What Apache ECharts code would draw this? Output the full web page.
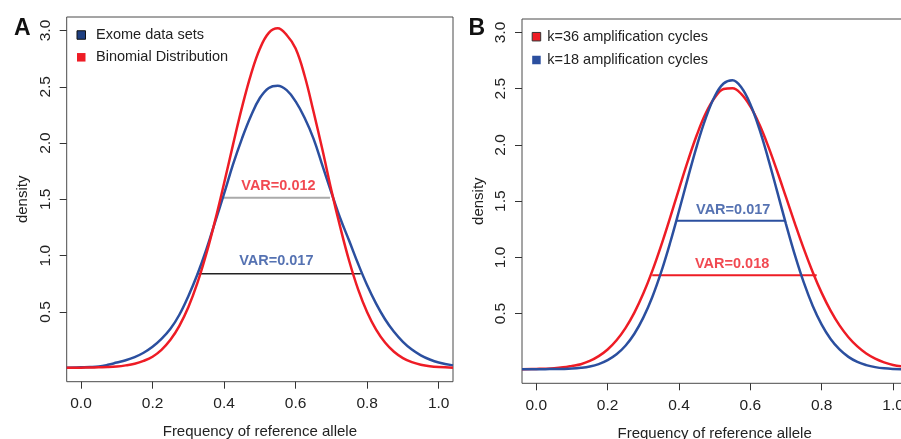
<!DOCTYPE html>
<html><head><meta charset="utf-8">
<script src="https://cdn.jsdelivr.net/npm/echarts@6/dist/echarts.min.js"></script>
<style>html,body{margin:0;padding:0;background:#fff}#c{width:901px;height:439px}</style>
</head><body><div id="c"></div>
<script>
// ---- data ----
const xSamples = [-0.04, 0.000, 0.025, 0.050, 0.075, 0.100, 0.125, 0.150, 0.175, 0.200, 0.225, 0.250, 0.275, 0.300, 0.325, 0.350, 0.375, 0.400, 0.425, 0.450, 0.475, 0.500, 0.525, 0.550, 0.575, 0.600, 0.625, 0.650, 0.675, 0.700, 0.725, 0.750, 0.775, 0.800, 0.825, 0.850, 0.875, 0.900, 0.925, 0.950, 0.975, 1.000, 1.04];
// Panel A
const exomeA    = [0.005, 0.008, 0.010, 0.015, 0.030, 0.050, 0.070, 0.098, 0.137, 0.190, 0.260, 0.350, 0.475, 0.640, 0.830, 1.050, 1.300, 1.550, 1.810, 2.040, 2.240, 2.400, 2.490, 2.510, 2.470, 2.370, 2.225, 2.040, 1.800, 1.560, 1.330, 1.130, 0.925, 0.737, 0.574, 0.435, 0.323, 0.234, 0.165, 0.114, 0.077, 0.051, 0.025];
const binomialA = [0.003, 0.005, 0.006, 0.008, 0.010, 0.015, 0.025, 0.040, 0.065, 0.102, 0.163, 0.252, 0.376, 0.541, 0.753, 1.012, 1.313, 1.643, 1.986, 2.317, 2.609, 2.838, 2.979, 3.020, 2.960, 2.840, 2.600, 2.280, 1.940, 1.580, 1.250, 0.950, 0.698, 0.497, 0.343, 0.228, 0.146, 0.090, 0.054, 0.031, 0.017, 0.010, 0.005];
// Panel B
const k36B      = [0.005, 0.008, 0.010, 0.014, 0.022, 0.035, 0.050, 0.079, 0.122, 0.181, 0.263, 0.371, 0.509, 0.678, 0.878, 1.105, 1.352, 1.608, 1.858, 2.088, 2.281, 2.420, 2.497, 2.505, 2.451, 2.342, 2.185, 1.989, 1.768, 1.535, 1.300, 1.075, 0.868, 0.684, 0.526, 0.395, 0.290, 0.208, 0.145, 0.099, 0.066, 0.043, 0.025];
const k18B      = [0.004, 0.005, 0.006, 0.007, 0.008, 0.011, 0.018, 0.030, 0.051, 0.086, 0.138, 0.214, 0.321, 0.464, 0.646, 0.869, 1.128, 1.412, 1.707, 1.990, 2.238, 2.431, 2.546, 2.575, 2.510, 2.362, 2.145, 1.879, 1.589, 1.296, 1.020, 0.775, 0.568, 0.402, 0.274, 0.181, 0.115, 0.070, 0.042, 0.024, 0.013, 0.008, 0.005];

const seriesNamesA = ['Exome data sets', 'Binomial Distribution'];
const seriesNamesB = ['k=36 amplification cycles', 'k=18 amplification cycles'];

// VAR segments: level (density), start x, end x; label anchors in data units
const varLevelsA = [1.514, 0.84];
const varStartsA = [0.394, 0.324];
const varEndsA   = [0.696, 0.782];
const varLabelsA = ['VAR=0.012', 'VAR=0.017'];
const varLabelXA = [0.552, 0.546];
const varLabelYA = [1.617, 0.952];

const varLevelsB = [1.325, 0.84];
const varStartsB = [0.392, 0.325];
const varEndsB   = [0.697, 0.786];
const varLabelsB = ['VAR=0.017', 'VAR=0.018'];
const varLabelXB = [0.552, 0.549];
const varLabelYB = [1.423, 0.944];

const xTicks = [0.0, 0.2, 0.4, 0.6, 0.8, 1.0];
const yTicks = [0.5, 1.0, 1.5, 2.0, 2.5, 3.0];
const panelLetters = ['A', 'B'];
const xTitle = 'Frequency of reference allele';
const yTitle = 'density';

// ---- styles ----
const RED = '#ee1c25';
const BLUE = '#2b4f9f';
const FONT = '"Liberation Sans", Arial, Helvetica, sans-serif';
const TXT = '#222';

function pairs(xs, ys) { return xs.map((x, i) => [x, ys[i]]); }

function xAxisFor(g) {
  return {
    type: 'value', gridIndex: g, min: -0.04, max: 1.04,
    axisLine: { show: false, onZero: false }, splitLine: { show: false },
    axisTick: { show: true, inside: false, customValues: xTicks, length: 7, lineStyle: { color: '#333', width: 1 } },
    axisLabel: { show: true, customValues: xTicks, formatter: v => v.toFixed(1), margin: 14,
      fontSize: 15.5, lineHeight: 16, color: TXT, fontFamily: FONT },
    name: xTitle, nameLocation: 'middle', nameGap: 43,
    nameTextStyle: { fontSize: 15, color: TXT, fontFamily: FONT }
  };
}
function yAxisFor(g) {
  return {
    type: 'value', gridIndex: g, min: -0.12, max: 3.12,
    axisLine: { show: false, onZero: false }, splitLine: { show: false },
    axisTick: { show: true, inside: false, customValues: yTicks, length: 7, lineStyle: { color: '#333', width: 1 } },
    axisLabel: { show: true, customValues: yTicks, formatter: v => v.toFixed(1), rotate: 90, margin: 13,
      fontSize: 15.5, lineHeight: 16, color: TXT, fontFamily: FONT },
    name: yTitle, nameLocation: 'middle', nameGap: 36,
    nameTextStyle: { fontSize: 15, color: TXT, fontFamily: FONT }
  };
}
function curve(name, g, ys, color) {
  return { name, type: 'line', xAxisIndex: g, yAxisIndex: g, data: pairs(xSamples, ys),
    smooth: 0.4, showSymbol: false, symbol: 'none', lineStyle: { color, width: 2.5 }, itemStyle: { color },
    z: 3, silent: true };
}
function segment(g, x0, x1, y, color, width) {
  return { type: 'line', xAxisIndex: g, yAxisIndex: g, data: [[x0, y], [x1, y]],
    showSymbol: false, symbol: 'none', lineStyle: { color, width }, z: 2, silent: true };
}
function labels(g, xs, ys, texts, colors) {
  return { type: 'scatter', xAxisIndex: g, yAxisIndex: g, symbolSize: 0, silent: true, z: 4,
    data: xs.map((x, i) => ({ value: [x, ys[i]], name: texts[i],
      label: { color: colors[i] } })),
    label: { show: true, position: 'inside', formatter: '{b}', fontSize: 14.5, fontWeight: 'bold', fontFamily: FONT } };
}

const chart = echarts.init(document.getElementById('c'), null, { renderer: 'canvas' });
chart.setOption({
  animation: false,
  backgroundColor: '#fff',
  title: [
    { text: panelLetters[0], left: 14, top: 17, padding: 0, textStyle: { fontSize: 23, fontWeight: 'bold', color: '#111', fontFamily: FONT } },
    { text: panelLetters[1], left: 468.5, top: 17, padding: 0, textStyle: { fontSize: 23, fontWeight: 'bold', color: '#111', fontFamily: FONT } }
  ],
  grid: [
    { left: 66.7, top: 17, width: 386.3, height: 364.7, show: true, borderColor: '#4a4a4a', borderWidth: 1, backgroundColor: 'transparent', outerBoundsMode: 'none', containLabel: false },
    { left: 522, top: 19, width: 385.3, height: 364.3, show: true, borderColor: '#4a4a4a', borderWidth: 1, backgroundColor: 'transparent', outerBoundsMode: 'none', containLabel: false }
  ],
  legend: [
    { data: [{ name: seriesNamesA[0], itemStyle: { color: '#1f3f80', borderColor: '#111', borderWidth: 1 } },
             { name: seriesNamesA[1], itemStyle: { color: RED } }],
      orient: 'vertical', left: 76.5, top: 26.5, padding: 0, icon: 'rect', itemWidth: 8.5, itemHeight: 8.5, itemGap: 5.3,
      selectedMode: false, textStyle: { fontSize: 14.5, lineHeight: 17, color: TXT, fontFamily: FONT, padding: [0, 0, 0, 5.5] } },
    { data: [{ name: seriesNamesB[0], itemStyle: { color: RED, borderColor: '#333', borderWidth: 1 } },
             { name: seriesNamesB[1], itemStyle: { color: BLUE } }],
      orient: 'vertical', left: 531.7, top: 28.2, padding: 0, icon: 'rect', itemWidth: 8.5, itemHeight: 8.5, itemGap: 6.3,
      selectedMode: false, textStyle: { fontSize: 14.5, lineHeight: 17, color: TXT, fontFamily: FONT, padding: [0, 0, 0, 1.5] } }
  ],
  xAxis: [xAxisFor(0), xAxisFor(1)],
  yAxis: [yAxisFor(0), yAxisFor(1)],
  series: [
    curve(seriesNamesA[0], 0, exomeA, BLUE),
    curve(seriesNamesA[1], 0, binomialA, RED),
    segment(0, varStartsA[0], varEndsA[0], varLevelsA[0], '#aaaaaa', 2),
    segment(0, varStartsA[1], varEndsA[1], varLevelsA[1], '#222222', 1.5),
    labels(0, varLabelXA, varLabelYA, varLabelsA, [RED, BLUE]),
    curve(seriesNamesB[0], 1, k36B, RED),
    curve(seriesNamesB[1], 1, k18B, BLUE),
    segment(1, varStartsB[0], varEndsB[0], varLevelsB[0], BLUE, 2),
    segment(1, varStartsB[1], varEndsB[1], varLevelsB[1], RED, 2),
    labels(1, varLabelXB, varLabelYB, varLabelsB, [BLUE, RED])
  ]
});
</script>
</body></html>
